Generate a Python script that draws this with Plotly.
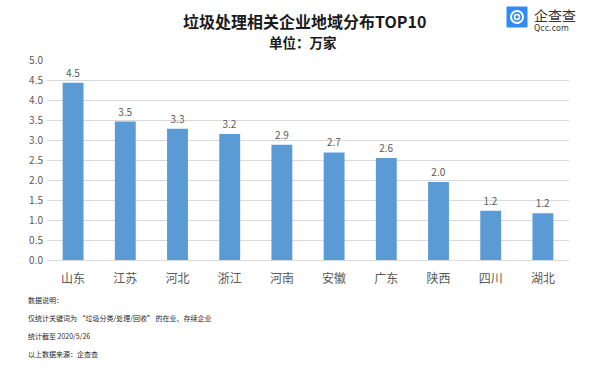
import plotly.graph_objects as go

categories = ["山东", "江苏", "河北", "浙江", "河南", "安徽", "广东", "陕西", "四川", "湖北"]
values = [4.43, 3.46, 3.28, 3.15, 2.88, 2.69, 2.55, 1.95, 1.23, 1.17]
value_labels = ["4.5", "3.5", "3.3", "3.2", "2.9", "2.7", "2.6", "2.0", "1.2", "1.2"]
y_ticks = [0, 0.5, 1.0, 1.5, 2.0, 2.5, 3.0, 3.5, 4.0, 4.5, 5.0]
y_tick_labels = ["0.0", "0.5", "1.0", "1.5", "2.0", "2.5", "3.0", "3.5", "4.0", "4.5", "5.0"]
notes = [
    "数据说明：",
    "仅统计关键词为 \u201c垃圾分类/处理/回收\u201d 的在业、存续企业",
    "统计截至 2020/5/26",
    "以上数据来源：企查查",
]

FONT = "Noto Sans CJK SC"
W, H = 600, 374
ML, MR, MT, MB = 47, 31, 60, 114
pw = W - ML - MR
ph = H - MT - MB


def px2paper(x, y):
    return (x - ML) / pw, (H - MB - y) / ph


fig = go.Figure()
fig.add_trace(go.Bar(
    x=categories, y=values,
    marker=dict(color="#5B9BD5", line=dict(width=0)),
    text=value_labels, textposition="outside",
    textfont=dict(size=10, color="#595959", family=FONT),
    cliponaxis=False,
    width=0.4,
    hoverinfo="skip",
))

fig.update_layout(
    width=W, height=H,
    margin=dict(l=ML, r=MR, t=MT, b=MB, autoexpand=False),
    plot_bgcolor="white", paper_bgcolor="white",
    showlegend=False,
    font=dict(family=FONT),
    xaxis=dict(
        tickfont=dict(size=12, color="#595959", family=FONT),
        showgrid=False, showline=True, linecolor="#D9D9D9", linewidth=1,
        ticks="", fixedrange=True, automargin=False, ticklabelstandoff=8,
    ),
    yaxis=dict(
        range=[0, 5.0], tickvals=y_ticks, ticktext=y_tick_labels,
        tickfont=dict(size=10, color="#595959", family=FONT),
        showgrid=True, gridcolor="#D9D9D9", gridwidth=1,
        zeroline=False, showline=False, ticks="", ticklen=0, automargin=False,
        fixedrange=True, ticklabelstandoff=3,
    ),
    bargap=0.6,
)

ann_specs = [
    ("<b>垃圾处理相关企业地域分布TOP10</b>", 304, 21, "center", 16, "#1a1a1a", FONT),
    ("<b>单位：万家</b>", 303, 42, "center", 13.5, "#1a1a1a", FONT),
    ("企查查", 532, 15, "left", 14, "#333333", FONT),
    ("Qcc.com", 532, 29, "left", 8, "#333333", "DejaVu Sans"),
]
note_y = [300, 318, 336, 354]
for t, yy in zip(notes, note_y):
    ann_specs.append((t, 26, yy, "left", 7, "#1f1f1f", FONT))

annotations = []
for text, px, py, xa, size, color, fam in ann_specs:
    ax, ay = px2paper(px, py)
    annotations.append(dict(text=text, x=ax, y=ay, xref="paper", yref="paper",
                            xanchor=xa, yanchor="middle", showarrow=False,
                            font=dict(size=size, color=color, family=fam)))
fig.update_layout(annotations=annotations)

x0, y0 = px2paper(507, 27)
x1, y1 = px2paper(527, 7)
cx0, cy0 = px2paper(511, 23)
cx1, cy1 = px2paper(523, 11)
ix0, iy0 = px2paper(514.5, 19.5)
ix1, iy1 = px2paper(519.5, 14.5)
fig.update_layout(shapes=[
    dict(type="rect", xref="paper", yref="paper", x0=x0, y0=y0, x1=x1, y1=y1,
         fillcolor="#2F8CF4", line=dict(color="#2F8CF4", width=1)),
    dict(type="circle", xref="paper", yref="paper", x0=cx0, y0=cy0, x1=cx1, y1=cy1,
         fillcolor="rgba(0,0,0,0)", line=dict(color="white", width=2)),
    dict(type="circle", xref="paper", yref="paper", x0=ix0, y0=iy0, x1=ix1, y1=iy1,
         fillcolor="rgba(0,0,0,0)", line=dict(color="white", width=1.5)),
])

fig.write_html("out.html", post_script="document.body.style.margin='0';",
               config={"displayModeBar": False})
